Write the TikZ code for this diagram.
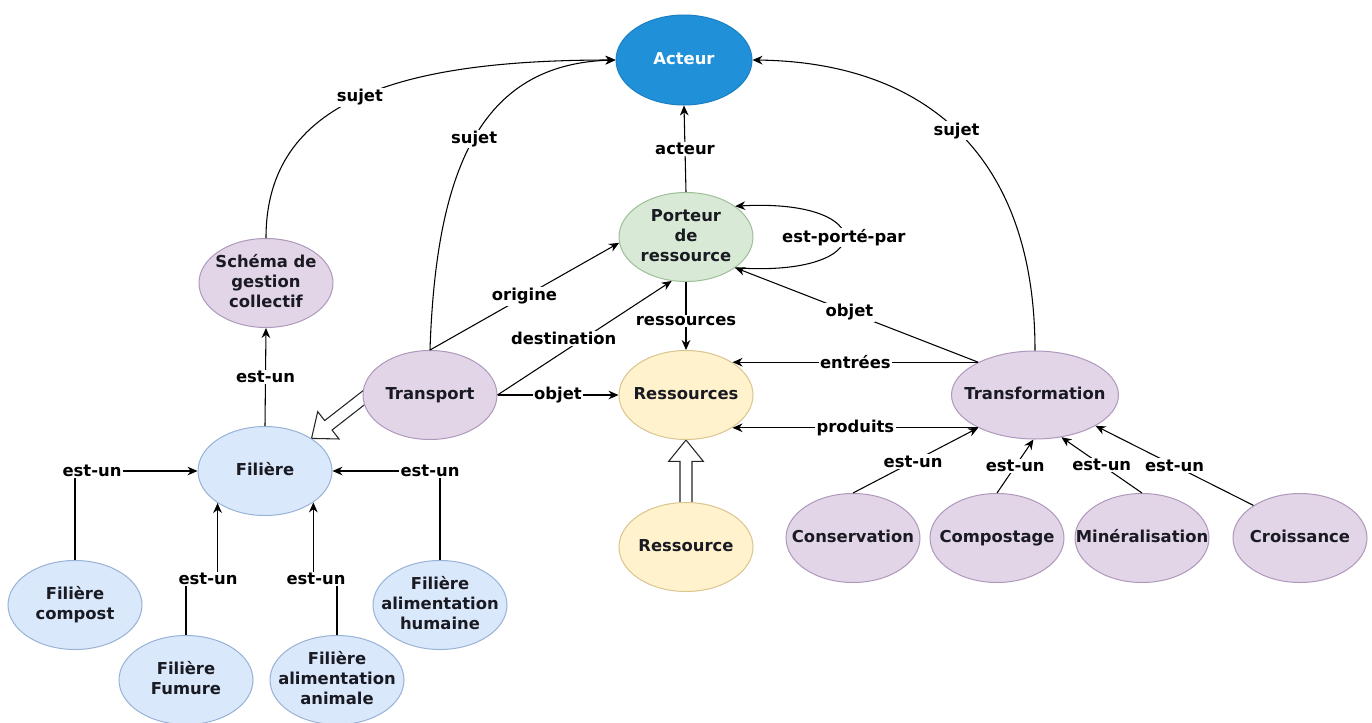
\documentclass[tikz,border=0pt]{standalone}
\usepackage{fontspec}
\setmainfont{DejaVu Sans}
\usetikzlibrary{shapes.geometric,arrows.meta,calc,backgrounds}
\definecolor{cblue}{HTML}{2090D8}
\definecolor{cblueD}{HTML}{1A7FC4}
\definecolor{cgreen}{HTML}{D8E9D5}
\definecolor{cgreenD}{HTML}{9DBF98}
\definecolor{cyel}{HTML}{FFF2CC}
\definecolor{cyelD}{HTML}{D9C58E}
\definecolor{cpur}{HTML}{E1D5E7}
\definecolor{cpurD}{HTML}{AE98BC}
\definecolor{clb}{HTML}{DAE8FC}
\definecolor{clbD}{HTML}{98B2D6}
\definecolor{txt}{HTML}{1A1A22}
\newcommand{\nodetxt}[1]{\makebox[0pt]{\begin{tabular}{@{}c@{}}#1\end{tabular}}}
\newcommand{\hollowarrow}[2]{%
  \coordinate (ha) at (#1);
  \coordinate (ht) at (#2);
  \coordinate (hb) at ($(ht)!16pt!(ha)$);
  \draw[hollow] ($(ha)!4.5pt!90:(ht)$) -- ($(hb)!4.5pt!90:(ht)$) -- ($(hb)!13pt!90:(ht)$) -- (ht)
     -- ($(hb)!13pt!-90:(ht)$) -- ($(hb)!4.5pt!-90:(ht)$) -- ($(ha)!4.5pt!-90:(ht)$) -- cycle;}
\begin{document}
\begin{tikzpicture}[x=0.75pt,y=-0.75pt,
  every node/.style={font=\fontsize{12.3}{15}\selectfont\bfseries, text=txt},
  ell/.style={ellipse, draw, line width=0.75pt, minimum width=100.5pt, minimum height=66.75pt, inner sep=0pt},
  pur/.style={ell, fill=cpur, draw=cpurD},
  blu/.style={ell, fill=clb, draw=clbD},
  yel/.style={ell, fill=cyel, draw=cyelD},
  arr/.style={draw=black, line width=0.8pt, -{Stealth[length=7.5pt,width=6.5pt]}},
  lbl/.style={fill=white, inner sep=1pt, text=black},
  hollow/.style={draw=black!85, line width=0.8pt, fill=white, line join=miter}
]
\useasboundingbox (0,0) rectangle (1372,722);

% nodes
\node[ell, fill=cblue, draw=cblueD, text=white, minimum width=102pt, minimum height=67.5pt] (act) at (684,60) {\nodetxt{Acteur}};
\node[ell, fill=cgreen, draw=cgreenD] (por) at (686,237) {\nodetxt{Porteur\\de\\ressource}};
\node[yel] (ress) at (686,395) {\nodetxt{Ressources}};
\node[yel] (res1) at (686,547) {\nodetxt{Ressource}};
\node[pur] (tr) at (430,395) {\nodetxt{Transport}};
\node[pur, minimum width=125.25pt, minimum height=66pt] (tf) at (1035,395) {\nodetxt{Transformation}};
\node[pur] (sch) at (266,283) {\nodetxt{Schéma de\\gestion\\collectif}};
\node[blu] (fil) at (265,471) {\nodetxt{Filière}};
\node[blu] (comp) at (75,605) {\nodetxt{Filière\\compost}};
\node[blu] (fum) at (186,680) {\nodetxt{Filière\\Fumure}};
\node[blu] (ani) at (337,680) {\nodetxt{Filière\\alimentation\\animale}};
\node[blu] (hum) at (440,605) {\nodetxt{Filière\\alimentation\\humaine}};
\node[pur] (cons) at (853,538) {\nodetxt{Conservation}};
\node[pur] (compo) at (997,538) {\nodetxt{Compostage}};
\node[pur] (mine) at (1142,538) {\nodetxt{Minéralisation}};
\node[pur] (cro) at (1300,538) {\nodetxt{Croissance}};

% white page and hollow (generalisation) arrows behind the nodes
\begin{pgfonlayer}{background}
  \fill[white] (0,0) rectangle (1372,722);
  \hollowarrow{$(tr.183)!-6pt!(fil.35)$}{fil.35}
  \hollowarrow{$(res1.north)!-3pt!(ress.south)$}{ress.south}
\end{pgfonlayer}

% connectors to Acteur
\draw[arr] (sch.north) .. controls (266,100) and (400,60) .. (act.west) node[lbl,pos=0.5]{sujet};
\draw[arr] (tr.north) .. controls (436,170) and (480,64) .. (act.west) node[lbl,pos=0.5]{sujet};
\draw[arr] (tf.north) .. controls (1035,150) and (920,62) .. (act.east) node[lbl,pos=0.5]{sujet};
\draw[arr] (por.north) -- (act.south) node[lbl,pos=0.5]{acteur};

% Porteur de ressource
\draw[arr] (por.-32) .. controls (880,278) and (880,198) .. (por.32) node[lbl,pos=0.5]{est-porté-par};
\draw[arr] (tr.north) -- (por.185) node[lbl,pos=0.5]{origine};
\draw[arr] (tr.east) -- (por.-108) node[lbl,pos=0.38,yshift=10pt]{destination};
\draw[arr] (por.south) -- (ress.north) node[lbl,pos=0.57]{ressources};
\draw[arr] (tr.east) -- (ress.west) node[lbl,pos=0.5]{objet};
\draw[arr] (tf.150) -- (por.-32) node[lbl,pos=0.53]{objet};
\draw[arr] (tf.150) -- (ress.35 |- tf.150) node[lbl,pos=0.5]{entrées};
\draw[arr] (tf.-150) -- (ress.-35 |- tf.-150) node[lbl,pos=0.5]{produits};

% Transformation subclasses
\draw[arr] (cons.north) -- (tf.-150) node[lbl,pos=0.48]{est-un};
\draw[arr] (compo.north) -- (tf.-92) node[lbl,pos=0.5]{est-un};
\draw[arr] (mine.north) -- (tf.-58) node[lbl,pos=0.5]{est-un};
\draw[arr] (cro.145) -- (tf.-27) node[lbl,pos=0.5]{est-un};

% Filiere
\draw[arr] (fil.north) -- (sch.south) node[lbl,pos=0.5]{est-un};
\draw[arr] (comp.north) |- (fil.west) node[lbl,pos=0.5,xshift=12.75pt]{est-un};
\draw[arr] (hum.north) |- (fil.east) node[lbl,pos=0.5,xshift=-7.5pt]{est-un};
\coordinate (kfum) at (208,579);
\coordinate (kani) at (316,579);
\draw[arr] (fum.north) |- (kfum) -| (fil.214);
\node[lbl] at (kfum) {est-un};
\draw[arr] (ani.north) |- (kani) -| (fil.-33);
\node[lbl] at (kani) {est-un};
\end{tikzpicture}
\end{document}
